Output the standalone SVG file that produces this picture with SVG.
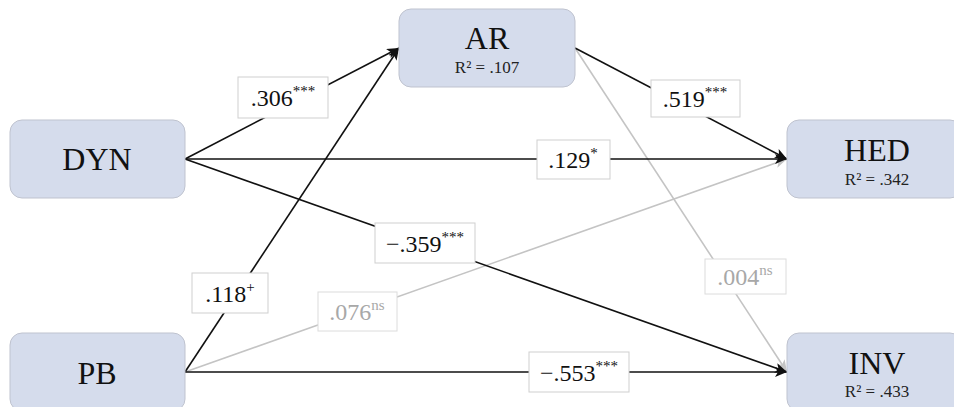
<svg xmlns="http://www.w3.org/2000/svg" width="954" height="407" viewBox="0 0 954 407">
  <style>
    .node rect { fill: #d5dcec; stroke: #bfc3cf; stroke-width: 1; }
    .name { font-family: "Liberation Serif", serif; font-size: 32px; fill: #111; text-anchor: middle; }
    .r2 { font-family: "Liberation Serif", serif; font-size: 17px; fill: #222; text-anchor: middle; }
    .edge { fill: none; stroke: #111; stroke-width: 1.6; }
    .edge.ns { stroke: #c4c4c4; }
    .lbl rect { fill: #fff; stroke: #cfcfcf; stroke-width: 1; }
    .lbl text { font-family: "Liberation Serif", serif; font-size: 24px; fill: #111; text-anchor: middle; }
    .lbl.ns rect { stroke: #dcdcdc; }
    .lbl.ns text { fill: #a8a8a8; }
    .sup { font-size: 15px; }
  </style>
  <defs>
    <marker id="arr" viewBox="0 0 12 10" refX="12" refY="5" markerWidth="12" markerHeight="10" markerUnits="userSpaceOnUse" orient="auto">
      <path d="M0,0 L12,5 L0,10 L3,5 Z" fill="#111"/>
    </marker>
    <marker id="arrg" viewBox="0 0 12 10" refX="12" refY="5" markerWidth="12" markerHeight="10" markerUnits="userSpaceOnUse" orient="auto">
      <path d="M0,0 L12,5 L0,10 L3,5 Z" fill="#c4c4c4"/>
    </marker>
  </defs>

  <!-- paths -->
  <g id="connectors">
    <line class="edge ns" x1="575" y1="48" x2="787" y2="372" marker-end="url(#arrg)"/>
    <line class="edge ns" x1="185" y1="372" x2="787" y2="159" marker-end="url(#arrg)"/>
    <line class="edge" x1="185" y1="159" x2="399" y2="48" marker-end="url(#arr)"/>
    <line class="edge" x1="185" y1="372" x2="399" y2="48" marker-end="url(#arr)"/>
    <line class="edge" x1="575" y1="48" x2="787" y2="159" marker-end="url(#arr)"/>
    <line class="edge" x1="185" y1="159" x2="787" y2="159" marker-end="url(#arr)"/>
    <line class="edge" x1="185" y1="159" x2="787" y2="372" marker-end="url(#arr)"/>
    <line class="edge" x1="185" y1="372" x2="787" y2="372" marker-end="url(#arr)"/>
  </g>

  <!-- path coefficients -->
  <g id="coefficients">
    <g class="lbl"><rect x="238" y="77" width="90" height="41"/><text x="283" y="106">.306<tspan class="sup" dy="-10">***</tspan></text></g>
    <g class="lbl"><rect x="651" y="80" width="89" height="37"/><text x="695" y="107">.519<tspan class="sup" dy="-10">***</tspan></text></g>
    <g class="lbl"><rect x="537" y="140" width="73" height="39"/><text x="573" y="168">.129<tspan class="sup" dy="-10">*</tspan></text></g>
    <g class="lbl"><rect x="375" y="223" width="100" height="40"/><text x="425" y="252">−.359<tspan class="sup" dy="-10">***</tspan></text></g>
    <g class="lbl"><rect x="192" y="273" width="76" height="40"/><text x="230" y="302">.118<tspan class="sup" dy="-10">+</tspan></text></g>
    <g class="lbl ns"><rect x="318" y="292" width="79" height="39"/><text x="357" y="320">.076<tspan class="sup" dy="-10">ns</tspan></text></g>
    <g class="lbl ns"><rect x="705" y="259" width="81" height="35"/><text x="745" y="285">.004<tspan class="sup" dy="-10">ns</tspan></text></g>
    <g class="lbl"><rect x="529" y="352" width="100" height="40"/><text x="579" y="381">−.553<tspan class="sup" dy="-10">***</tspan></text></g>
  </g>

  <!-- constructs -->
  <g id="AR" class="node">
    <rect x="399" y="9" width="176" height="78" rx="12"/>
    <text class="name" x="487" y="49">AR</text>
    <text class="r2" x="487" y="73">R² = .107</text>
  </g>
  <g id="DYN" class="node">
    <rect x="10" y="120" width="175" height="78" rx="12"/>
    <text class="name" x="97" y="170">DYN</text>
  </g>
  <g id="PB" class="node">
    <rect x="10" y="333" width="175" height="78" rx="12"/>
    <text class="name" x="97" y="384">PB</text>
  </g>
  <g id="HED" class="node">
    <rect x="787" y="120" width="175" height="78" rx="12"/>
    <text class="name" x="877" y="161">HED</text>
    <text class="r2" x="877" y="185">R² = .342</text>
  </g>
  <g id="INV" class="node">
    <rect x="787" y="333" width="175" height="78" rx="12"/>
    <text class="name" x="877" y="374">INV</text>
    <text class="r2" x="877" y="397">R² = .433</text>
  </g>
</svg>
